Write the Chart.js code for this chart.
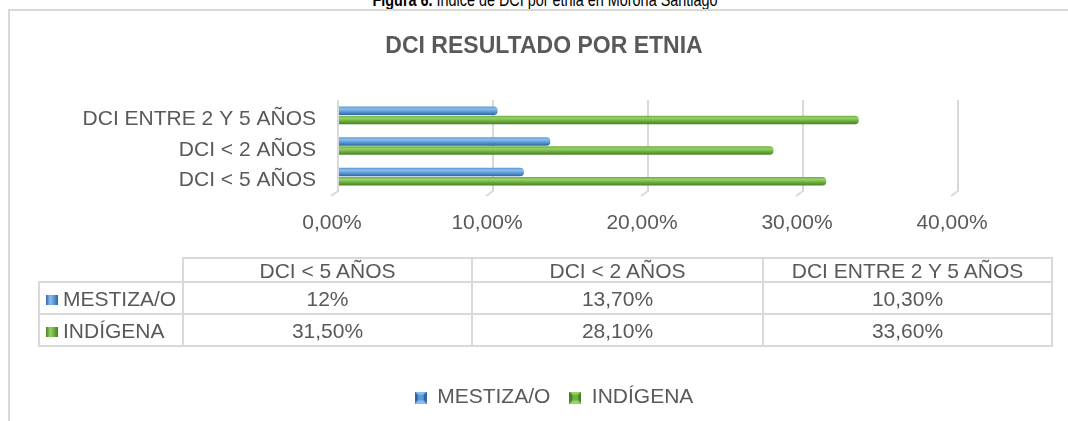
<!DOCTYPE html>
<html lang="es">
<head>
<meta charset="utf-8">
<title>DCI resultado por etnia</title>
<script src="https://cdn.jsdelivr.net/npm/chart.js@4.4.1/dist/chart.umd.min.js"></script>
<style>
  html, body { margin: 0; padding: 0; background: #fff; width: 1068px; height: 421px; overflow: hidden; }
  body { position: relative; font-family: "Liberation Sans", Arial, sans-serif; }
  #caption { position: absolute; left: 0; top: -9px; width: 1090px; text-align: center; font-size: 18px; line-height: 18px; color: #000; white-space: nowrap; transform: scaleX(0.8); transform-origin: 545px 0; }
  #frame { position: absolute; left: 8px; top: 9px; width: 1200px; height: 600px; border-left: 2px solid #d9d9d9; border-top: 2px solid #d9d9d9; }
  #wrap { position: absolute; left: 0; top: 0; width: 1068px; height: 421px; }
  #tabla { position: absolute; left: 38px; top: 257px; border-collapse: collapse; table-layout: fixed; width: 1013px; font-size: 21px; color: #595959; }
  #tabla td { border: 2px solid #d9d9d9; text-align: center; padding: 0; white-space: nowrap; height: 29px; line-height: 29px; padding-top: 1px; }
  #tabla tr.cab td { height: 21px; line-height: 21px; padding-top: 1px; }
  #tabla td.vacia { border-top: hidden; border-left: hidden; }
  #tabla td.serie { text-align: left; padding-left: 6px; }
  .llave { display: inline-block; width: 12px; height: 10px; margin-right: 5px; vertical-align: 1px; }
</style>
</head>
<body>
<div id="caption"><b>Figura 6.</b> Índice de DCI por etnia en Morona Santiago</div>
<div id="frame"></div>
<div id="wrap"><canvas id="dciChart"></canvas></div>
<table id="tabla">
  <colgroup><col style="width:144px"><col style="width:289px"><col style="width:291px"><col style="width:289px"></colgroup>
</table>
<script>
// Datos
const categorias = ['DCI < 5 AÑOS', 'DCI < 2 AÑOS', 'DCI ENTRE 2 Y 5 AÑOS'];
const series = ['MESTIZA/O', 'INDÍGENA'];
const mestiza = [12, 13.7, 10.3];
const indigena = [31.5, 28.1, 33.6];
const ticksX = [0, 10, 20, 30, 40];

const FUENTE = '"Liberation Sans", Arial, sans-serif';
const GRIS = '#595959';

// colores tipo cilindro (claro, medio, oscuro)
const azul = ['#8cbcf0', '#5b9bd5', '#2f64a6'];
const verde = ['#96d266', '#6fb040', '#497f25'];

const tick = v => v.toFixed(2).replace('.', ',') + '%';
const celda = v => Number.isInteger(v) ? v + '%' : v.toFixed(2).replace('.', ',') + '%';

// degradado vertical sobre el grosor de cada barra
function cilindro(c) {
  return function (context) {
    const el = context.element;
    if (!el || el.y === undefined || !el.height) return c[1];
    const h = el.height;
    const g = context.chart.ctx.createLinearGradient(0, el.y - h / 2, 0, el.y + h / 2);
    g.addColorStop(0, c[1]);
    g.addColorStop(0.3, c[0]);
    g.addColorStop(0.6, c[1]);
    g.addColorStop(1, c[2]);
    return g;
  };
}

// cuadradito biselado de la leyenda
function llave(c) {
  const cv = document.createElement('canvas');
  cv.width = 12; cv.height = 12;
  const g = cv.getContext('2d');
  g.fillStyle = c[0];
  g.fillRect(0, 0, 12, 12);
  g.fillStyle = c[2];
  g.beginPath(); g.moveTo(0, 0); g.lineTo(6, 6); g.lineTo(0, 12); g.fill();
  g.beginPath(); g.moveTo(12, 0); g.lineTo(6, 6); g.lineTo(12, 12); g.fill();
  g.fillStyle = c[1];
  g.fillRect(3, 3, 6, 6);
  return cv;
}
const llaves = [llave(azul), llave(verde)];

// patas en perspectiva de las lineas de division
const perspectiva = {
  id: 'perspectiva',
  beforeDatasetsDraw(chart) {
    const { ctx, chartArea, scales: { x } } = chart;
    ctx.save();
    ctx.strokeStyle = '#d9d9d9';
    ctx.lineWidth = 2;
    ticksX.forEach(v => {
      const px = x.getPixelForValue(v);
      ctx.beginPath();
      ctx.moveTo(px, chartArea.bottom - 1);
      ctx.lineTo(px - 7, chartArea.bottom + 4);
      ctx.stroke();
    });
    ctx.restore();
  }
};

// la leyenda queda un poco a la derecha del centro
const moverLeyenda = {
  id: 'moverLeyenda',
  afterLayout(chart) {
    chart.legend.left += 10;
    chart.legend.right += 10;
  }
};

const PAD_BOTTOM = 3;
const ctx = document.getElementById('dciChart').getContext('2d');
const dciChart = new Chart(ctx, {
  type: 'bar',
  data: {
    labels: categorias,
    datasets: [{
      label: series[0],
      data: mestiza,
      backgroundColor: cilindro(azul),
      borderWidth: 0,
      borderRadius: 4,
      borderSkipped: 'start'
    }, {
      label: series[1],
      data: indigena,
      backgroundColor: cilindro(verde),
      borderWidth: 0,
      borderRadius: 4,
      borderSkipped: 'start'
    }]
  },
  options: {
    indexAxis: 'y',
    responsive: true,
    maintainAspectRatio: false,
    animation: false,
    categoryPercentage: 0.6,
    barPercentage: 0.92,
    layout: { padding: { left: 20, top: 10, right: 0, bottom: PAD_BOTTOM } },
    plugins: {
      tooltip: { enabled: false },
      title: {
        display: true,
        text: 'DCI RESULTADO POR ETNIA',
        color: GRIS,
        font: { family: FUENTE, size: 23, weight: 'bold' },
        padding: { top: 23, bottom: 39.4 }
      },
      legend: {
        position: 'bottom',
        labels: {
          color: GRIS,
          font: { family: FUENTE, size: 21 },
          usePointStyle: true,
          boxWidth: 12,
          boxHeight: 12,
          padding: 19,
          generateLabels: chart => chart.data.datasets.map((ds, i) => ({
            text: ds.label,
            pointStyle: llaves[i],
            fillStyle: i ? verde[1] : azul[1],
            strokeStyle: 'transparent',
            lineWidth: 0,
            fontColor: GRIS,
            hidden: false,
            datasetIndex: i
          }))
        }
      }
    },
    scales: {
      x: {
        min: ticksX[0],
        max: ticksX[ticksX.length - 1],
        border: { display: false },
        grid: { color: '#d9d9d9', lineWidth: 2, drawTicks: false },
        ticks: {
          stepSize: 10,
          padding: 19,
          labelOffset: -6,
          color: GRIS,
          font: { family: FUENTE, size: 21 },
          callback: v => tick(v)
        },
        afterFit: s => {
          s.height = s.chart.height - PAD_BOTTOM - s.chart.legend.height - 192;
        }
      },
      y: {
        reverse: true,
        border: { display: false },
        grid: { display: false, drawTicks: false },
        ticks: {
          padding: 22,
          labelOffset: 4,
          color: GRIS,
          font: { family: FUENTE, size: 21 }
        },
        afterFit: s => { s.width = 318; }
      },
      derecha: {
        type: 'category',
        position: 'right',
        border: { display: false },
        grid: { display: false, drawTicks: false },
        ticks: { display: false },
        afterFit: s => { s.width = 110; }
      }
    }
  },
  plugins: [perspectiva, moverLeyenda]
});
// segunda pasada para que los degradados usen la posicion real de cada barra
dciChart.update();

// tabla de datos bajo el grafico
const tabla = document.getElementById('tabla');
const cab = tabla.insertRow();
cab.className = 'cab';
cab.insertCell().className = 'vacia';
categorias.forEach(c => { cab.insertCell().textContent = c; });
[mestiza, indigena].forEach((valores, i) => {
  const fila = tabla.insertRow();
  const nombre = fila.insertCell();
  nombre.className = 'serie';
  const k = document.createElement('span');
  k.className = 'llave';
  const c = i ? verde : azul;
  k.style.background = `linear-gradient(90deg, ${c[2]} 0%, ${c[0]} 35%, ${c[1]} 65%, ${c[2]} 100%)`;
  nombre.appendChild(k);
  nombre.appendChild(document.createTextNode(series[i]));
  valores.forEach(v => { fila.insertCell().textContent = celda(v); });
});
</script>
</body>
</html>
